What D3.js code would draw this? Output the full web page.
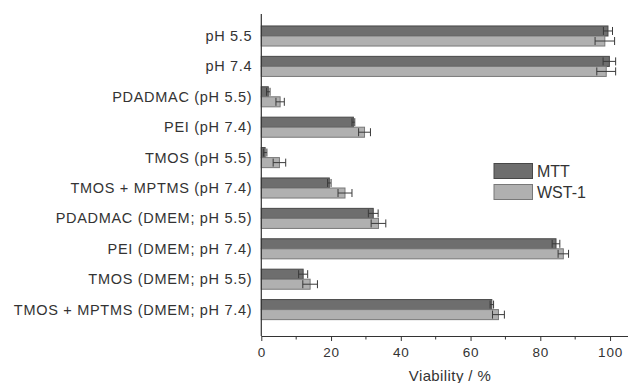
<!DOCTYPE html>
<html>
<head>
<meta charset="utf-8">
<script src="https://cdn.jsdelivr.net/npm/d3@7"></script>
<style>
  body { margin: 0; background: #fff; }
  svg text { font-family: "Liberation Sans", Arial, sans-serif; fill: #333; }
</style>
</head>
<body>
<div class="chart-container"></div>
<script>
const categories = [
  'pH 5.5',
  'pH 7.4',
  'PDADMAC (pH 5.5)',
  'PEI (pH 7.4)',
  'TMOS (pH 5.5)',
  'TMOS + MPTMS (pH 7.4)',
  'PDADMAC (DMEM; pH 5.5)',
  'PEI (DMEM; pH 7.4)',
  'TMOS (DMEM; pH 5.5)',
  'TMOS + MPTMS (DMEM; pH 7.4)'
];
const series = ['MTT', 'WST-1'];
const mttValues = [99.4, 99.8, 2.0, 26.4, 1.1, 19.5, 32.1, 84.5, 12.0, 66.1];
const mttErrors = [1.3, 1.8, 0.5, 0.4, 0.5, 0.5, 1.4, 1.1, 1.3, 0.5];
const wstValues = [98.5, 98.9, 5.4, 29.6, 5.2, 24.0, 33.6, 86.6, 14.0, 68.0];
const wstErrors = [2.8, 2.7, 1.2, 1.7, 1.8, 2.0, 2.1, 1.5, 2.1, 1.7];
const xTicks = [0, 20, 40, 60, 80, 100];
const xMinorTicks = [10, 30, 50, 70, 90];

const width = 643;
const height = 383;
const colors = { 'MTT': '#6e6e6e', 'WST-1': '#b0b0b0' };
const strokes = { 'MTT': '#484848', 'WST-1': '#787878' };

const svg = d3.select('.chart-container')
  .append('svg')
  .attr('width', width)
  .attr('height', height);

const x = d3.scaleLinear()
  .domain([0, 105])
  .range([261.3, 627.5]);

const y = d3.scaleBand()
  .domain(categories)
  .range([20.8, 324.8])
  .paddingInner(0.34)
  .paddingOuter(0.17);

const ySub = d3.scaleBand()
  .domain(series)
  .range([0, y.bandwidth()]);

const axisTop = 14;
const axisBottom = 336;

const rows = [];
categories.forEach((c, i) => {
  rows.push({ cat: c, s: 'MTT', v: mttValues[i], e: mttErrors[i] });
  rows.push({ cat: c, s: 'WST-1', v: wstValues[i], e: wstErrors[i] });
});

// bars
svg.append('g')
  .selectAll('rect')
  .data(rows)
  .enter()
  .append('rect')
  .attr('x', x(0))
  .attr('y', d => y(d.cat) + ySub(d.s))
  .attr('width', d => x(d.v) - x(0))
  .attr('height', ySub.bandwidth())
  .attr('fill', d => colors[d.s])
  .attr('stroke', d => strokes[d.s])
  .attr('stroke-width', 1);

// error bars
const err = svg.append('g')
  .attr('stroke', '#3a3a3a')
  .attr('stroke-width', 1)
  .selectAll('g')
  .data(rows)
  .enter()
  .append('g')
  .attr('transform', d => `translate(0, ${y(d.cat) + ySub(d.s) + ySub.bandwidth() / 2})`);

err.append('line')
  .attr('x1', d => x(d.v - d.e))
  .attr('x2', d => x(d.v + d.e))
  .attr('y1', 0)
  .attr('y2', 0);

err.append('line')
  .attr('x1', d => x(d.v - d.e))
  .attr('x2', d => x(d.v - d.e))
  .attr('y1', -4)
  .attr('y2', 4);

err.append('line')
  .attr('x1', d => x(d.v + d.e))
  .attr('x2', d => x(d.v + d.e))
  .attr('y1', -4)
  .attr('y2', 4);

// y axis line
svg.append('line')
  .attr('x1', x(0))
  .attr('x2', x(0))
  .attr('y1', axisTop)
  .attr('y2', axisBottom)
  .attr('stroke', '#333')
  .attr('stroke-width', 1.2);

// category labels
svg.append('g')
  .selectAll('text')
  .data(categories)
  .enter()
  .append('text')
  .attr('x', x(0) - 9)
  .attr('y', d => y(d) + y.bandwidth() / 2)
  .attr('dy', '0.35em')
  .attr('text-anchor', 'end')
  .attr('font-size', 14.5)
  .attr('letter-spacing', 0.7)
  .text(d => d);

// x axis
const xAxis = svg.append('g')
  .attr('transform', `translate(0, ${axisBottom})`)
  .call(d3.axisBottom(x).tickValues(xTicks).tickSize(5).tickSizeOuter(0).tickPadding(6));
xAxis.select('.domain').attr('stroke', '#333').attr('stroke-width', 1.2);
xAxis.selectAll('.tick line').attr('stroke', '#333');
xAxis.selectAll('.tick text')
  .attr('font-size', 13.5)
  .attr('letter-spacing', 0.8)
  .attr('font-family', '"Liberation Sans", Arial, sans-serif')
  .attr('fill', '#333');

svg.append('g')
  .attr('transform', `translate(0, ${axisBottom})`)
  .selectAll('line')
  .data(xMinorTicks)
  .enter()
  .append('line')
  .attr('x1', d => x(d))
  .attr('x2', d => x(d))
  .attr('y1', 0)
  .attr('y2', 3.5)
  .attr('stroke', '#333');

svg.append('text')
  .attr('x', 450)
  .attr('y', 381)
  .attr('text-anchor', 'middle')
  .attr('font-size', 15)
  .attr('letter-spacing', 0.4)
  .text('Viability / %');

// legend
const legend = svg.append('g')
  .selectAll('g')
  .data(series)
  .enter()
  .append('g')
  .attr('transform', (d, i) => `translate(494, ${163.5 + i * 21})`);

legend.append('rect')
  .attr('width', 38.5)
  .attr('height', 15)
  .attr('fill', d => colors[d])
  .attr('stroke', d => strokes[d]);

legend.append('text')
  .attr('x', 43)
  .attr('y', 7.5)
  .attr('dy', '0.36em')
  .attr('font-size', 16)
  .text(d => d);
</script>
</body>
</html>
